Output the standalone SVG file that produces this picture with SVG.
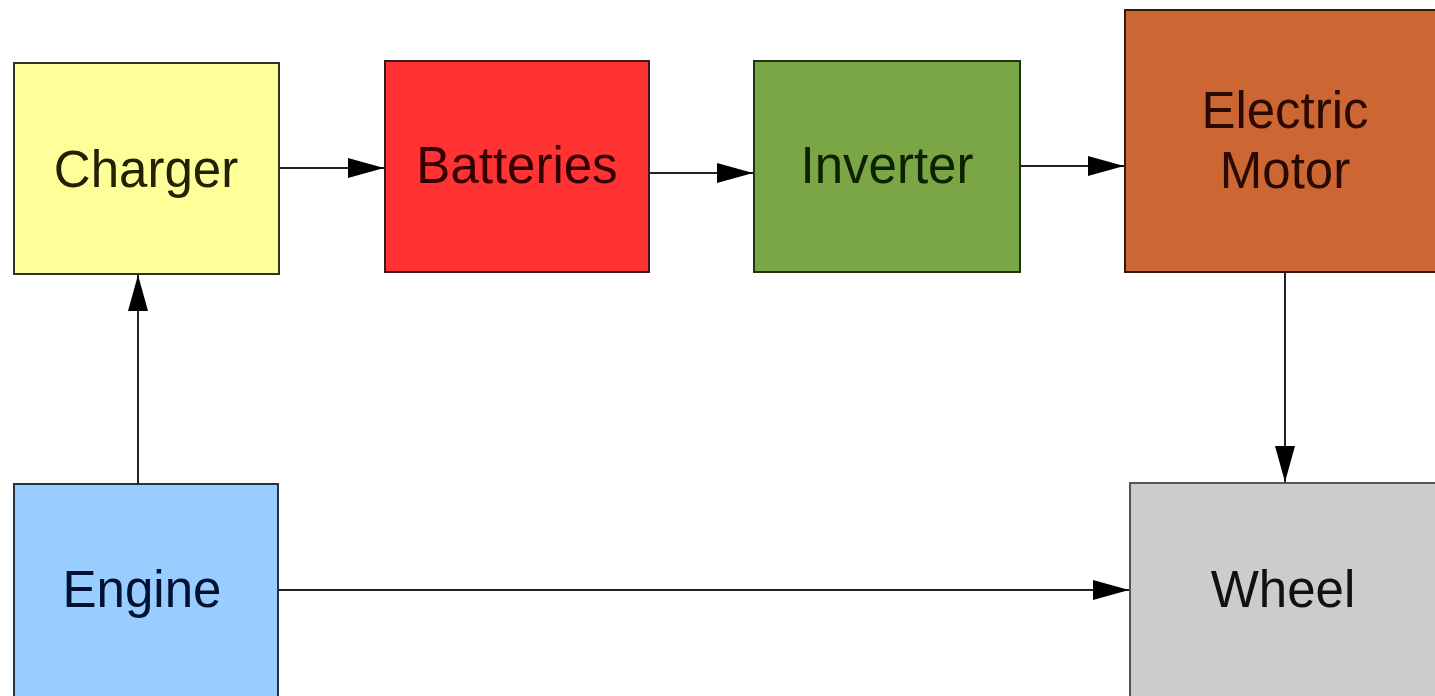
<svg xmlns="http://www.w3.org/2000/svg" width="1435" height="696" viewBox="0 0 1435 696">
  <style>
    .box { stroke-width: 2; }
    .label { font-family: "Liberation Sans", Arial, sans-serif; font-size: 51px; text-anchor: middle; }
    .wire { stroke: #222; stroke-width: 2; fill: none; }
  </style>
  <defs>
    <marker id="arrow" viewBox="0 0 36 20" refX="36" refY="10" markerWidth="36" markerHeight="20" markerUnits="userSpaceOnUse" orient="auto">
      <path d="M0,0 L36,10 L0,20 Z" fill="#000"/>
    </marker>
  </defs>
  <rect width="1435" height="696" fill="#ffffff"/>

  <g id="charger">
    <rect class="box" x="14" y="63" width="265" height="211" fill="#ffff99" stroke="#333322"/>
    <text class="label" x="146" y="187" fill="#222200">Charger</text>
  </g>
  <g id="batteries">
    <rect class="box" x="385" y="61" width="264" height="211" fill="#ff3333" stroke="#3a1a1a"/>
    <text class="label" x="517" y="183" fill="#330000">Batteries</text>
  </g>
  <g id="inverter">
    <rect class="box" x="754" y="61" width="266" height="211" fill="#7aa646" stroke="#223311"/>
    <text class="label" x="887" y="183" fill="#0f2200">Inverter</text>
  </g>
  <g id="electric-motor">
    <rect class="box" x="1125" y="10" width="320" height="262" fill="#cc6633" stroke="#331a0d"/>
    <text class="label" x="1285" y="128" fill="#2a0a00">Electric</text>
    <text class="label" x="1285" y="188" fill="#2a0a00">Motor</text>
  </g>
  <g id="engine">
    <rect class="box" x="14" y="484" width="264" height="222" fill="#99ccff" stroke="#223344"/>
    <text class="label" x="142" y="607" fill="#001133">Engine</text>
  </g>
  <g id="wheel">
    <rect class="box" x="1130" y="483" width="315" height="223" fill="#cccccc" stroke="#555555"/>
    <text class="label" x="1283" y="607" fill="#111111">Wheel</text>
  </g>

  <g id="connectors">
    <line class="wire" x1="279" y1="168" x2="384" y2="168" marker-end="url(#arrow)"/>
    <line class="wire" x1="649" y1="173" x2="753" y2="173" marker-end="url(#arrow)"/>
    <line class="wire" x1="1020" y1="166" x2="1124" y2="166" marker-end="url(#arrow)"/>
    <line class="wire" x1="1285" y1="272" x2="1285" y2="482" marker-end="url(#arrow)"/>
    <line class="wire" x1="138" y1="484" x2="138" y2="275" marker-end="url(#arrow)"/>
    <line class="wire" x1="278" y1="590" x2="1129" y2="590" marker-end="url(#arrow)"/>
  </g>
</svg>
